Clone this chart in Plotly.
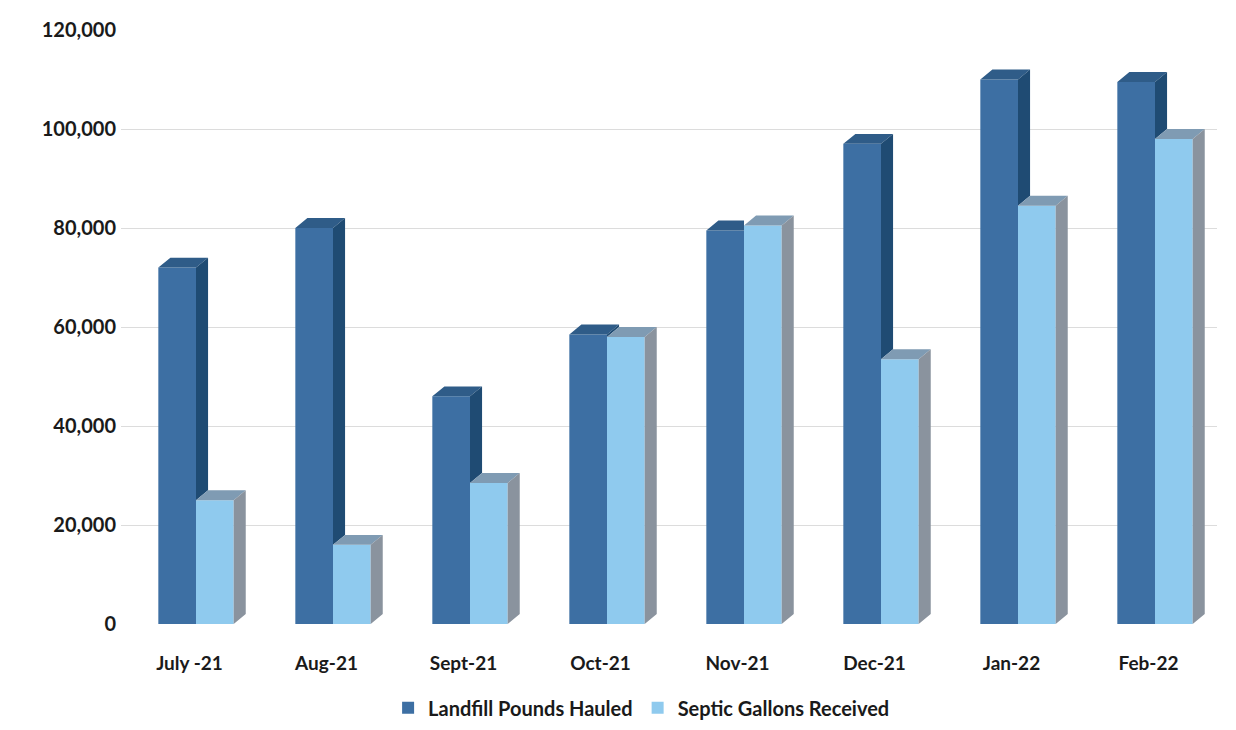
import plotly.graph_objects as go

months = ["July -21", "Aug-21", "Sept-21", "Oct-21", "Nov-21", "Dec-21", "Jan-22", "Feb-22"]
landfill = [72000, 80000, 46000, 58500, 79500, 97000, 110000, 109500]
septic = [25000, 16000, 28500, 58000, 80500, 53500, 84500, 98000]
y_ticks = [0, 20000, 40000, 60000, 80000, 100000, 120000]

W = 0.275         # bar width (x units)
OFF_L = -0.09
OFF_S = OFF_L + W
DX, DY = 0.088, 2000   # depth offset for pseudo-3D faces

LF_FRONT, LF_TOP, LF_SIDE = "#3d6fa3", "#2f5c88", "#1f4b73"
SP_FRONT, SP_TOP, SP_SIDE = "#8fcaee", "#7f9bb3", "#8a939e"

xl = [i + OFF_L for i in range(len(months))]
xs = [i + OFF_S for i in range(len(months))]

fig = go.Figure()
fig.add_trace(go.Bar(x=xl, y=landfill, width=W, name="Landfill Pounds Hauled",
                     marker=dict(color=LF_FRONT, line=dict(width=0))))
fig.add_trace(go.Bar(x=xs, y=septic, width=W, name="Septic Gallons Received",
                     marker=dict(color=SP_FRONT, line=dict(width=0))))


def poly_trace(xx, yy, color):
    return go.Scatter(x=xx, y=yy, fill="toself", fillcolor=color, mode="lines",
                      line=dict(width=0, color=color), hoverinfo="skip", showlegend=False)


# landfill top & side (clipped where septic front covers it)
tx, ty, sx, sy = [], [], [], []
for c, v, s in zip(xl, landfill, septic):
    x0, x1 = c - W / 2, c + W / 2
    if v >= s:
        tx += [x0, x0 + DX, x1 + DX, x1, x0, None]
        ty += [v, v + DY, v + DY, v, v, None]
        sx += [x1, x1 + DX, x1 + DX, x1, x1, None]
        sy += [s, s + DY, v + DY, v, s, None]
    else:
        tx += [x0, x0 + DX, x1, x1, x0, None]
        ty += [v, v + DY, v + DY, v, v, None]
fig.add_trace(poly_trace(tx, ty, LF_TOP))
fig.add_trace(poly_trace(sx, sy, LF_SIDE))

# septic top & side
tx, ty, sx, sy = [], [], [], []
for c, s in zip(xs, septic):
    x0, x1 = c - W / 2, c + W / 2
    tx += [x0, x0 + DX, x1 + DX, x1, x0, None]
    ty += [s, s + DY, s + DY, s, s, None]
    sx += [x1, x1 + DX, x1 + DX, x1, x1, None]
    sy += [0, DY, s + DY, s, 0, None]
fig.add_trace(poly_trace(tx, ty, SP_TOP))
fig.add_trace(poly_trace(sx, sy, SP_SIDE))

fig.update_layout(
    width=1236, height=730,
    margin=dict(l=121, r=19, t=30, b=106, autoexpand=False),
    paper_bgcolor="white", plot_bgcolor="white",
    barmode="overlay",
    font=dict(family="Lato, 'Open Sans', sans-serif", color="#1a1a1a"),
    xaxis=dict(range=[-0.5, 7.5], tickmode="array", tickvals=list(range(len(months))),
               ticktext=months, showgrid=False, zeroline=False, showline=False,
               tickfont=dict(size=19, weight="bold"), ticks="", ticklabelstandoff=26,
               fixedrange=True, automargin=False),
    yaxis=dict(range=[0, 120000], tickmode="array", tickvals=y_ticks,
               ticktext=[f"{t:,}" for t in y_ticks], showgrid=True, gridcolor="#dcdcdc",
               gridwidth=1, zeroline=False, showline=False, ticks="",
               ticklabelstandoff=4, automargin=False,
               tickfont=dict(size=20, weight="bold")),
    legend=dict(orientation="h", x=0.475, xanchor="center", y=-0.141, yanchor="middle",
                font=dict(size=20, weight="bold"),
                traceorder="normal", itemwidth=30),
    showlegend=True,
)

fig.write_html("out.html")
